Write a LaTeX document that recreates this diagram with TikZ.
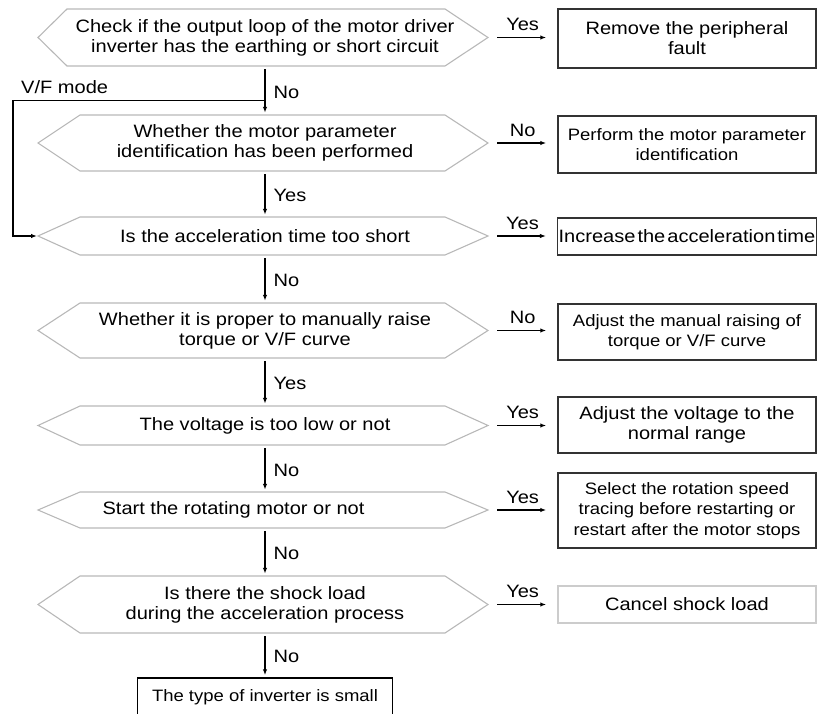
\documentclass[tikz,border=0pt]{standalone}
\usepackage{fontspec}
\setmainfont[FakeStretch=1.12]{Liberation Sans}
\usetikzlibrary{arrows.meta}
\newcommand{\mainsize}{\fontsize{17.9}{20}\selectfont}
\newcommand{\smallsize}{\fontsize{16.5}{20.5}\selectfont}

\begin{document}
\begin{tikzpicture}[x=1pt,y=-1pt,
	every node/.style={font=\mainsize},
	hexline/.style={draw=black!28, line width=1.1pt},
	decision/.style={inner sep=0pt, align=center},
	result/.style={draw, line width=1.5pt, minimum width=258pt, inner sep=1pt, align=center},
	flow/.style={-{Latex[length=6pt,width=4.5pt]}, line width=1.2pt}]
	\useasboundingbox (0,0) rectangle (817,714);
	% decision: number, y, half height, left corner, text
	\newcommand{\hexdecision}[5]{
		\draw[hexline] (38,#2) -- (#4,#2-#3) -- (445,#2-#3) -- (488,#2) -- (445,#2+#3) -- (#4,#2+#3) -- cycle;
		\node[decision, minimum height=2*#3] (d#1) at (265,#2) {#5};
		\coordinate (w#1) at (38,#2);
		\coordinate (e#1) at (488,#2);
	}
	% remedy: number, y, height, colour, font, text
	\newcommand{\remedy}[6]{
		\node[result, draw=#4, minimum height=#3, font=#5] (r#1) at (687,#2) {#6};
	}
	\hexdecision{1}{37.5}{28.5}{67}{Check if the output loop of the motor driver\\inverter has the earthing or short circuit}
	\hexdecision{2}{143}{28}{80}{Whether the motor parameter\\identification has been performed}
	\hexdecision{3}{236}{19}{80}{Is the acceleration time too short}
	\hexdecision{4}{330.5}{27.5}{80}{Whether it is proper to manually raise\\torque or V/F curve}
	\hexdecision{5}{425.5}{19.5}{80}{The voltage is too low or not}
	\hexdecision{6}{510}{18}{80}{\hspace*{-63pt}Start the rotating motor or not}
	\hexdecision{7}{604.5}{28.5}{80}{Is there the shock load\\during the acceleration process}

	\remedy{1}{38.5}{59}{black!80}{\mainsize}{Remove the peripheral\\fault}
	\remedy{2}{144.5}{57}{black!80}{\smallsize}{Perform the motor parameter\\identification}
	\remedy{3}{236.5}{37}{black!80}{\mainsize}{\spaceskip=2pt Increase the acceleration time}
	\remedy{4}{332}{56}{black!80}{\smallsize}{Adjust the manual raising of\\torque or V/F curve}
	\remedy{5}{425}{56}{black!80}{\mainsize}{Adjust the voltage to the\\normal range}
	\remedy{6}{510.5}{75}{black!80}{\smallsize}{Select the rotation speed\\tracing before restarting or\\restart after the motor stops}
	\remedy{7}{604.5}{37}{black!20}{\mainsize}{Cancel shock load}

	\node[result, minimum width=255pt, minimum height=38, font=\smallsize] (last) at (265,697) {The type of inverter is small};
	% main flow
	\foreach \a/\b/\lab in {d1/d2/No,d2/d3/Yes,d3/d4/No,d4/d5/Yes,d5/d6/No,d6/d7/No,d7/last/No}
	{
		\draw[flow, shorten <=3pt, shorten >=2pt] (\a.south) -- (\b.north)
			node[midway, anchor=west, inner sep=0pt, xshift=8pt, yshift=-1.5pt] {\lab};
	}
	\foreach \n/\lab in {1/Yes,2/No,3/Yes,4/No,5/Yes,6/Yes,7/Yes}
	{
		\draw[flow, shorten <=9pt, shorten >=11pt] (e\n) -- (e\n -| r\n.west)
			node[midway, anchor=south, inner sep=0pt, yshift=6pt] {\lab};
	}
	% V/F mode skips the identification
	\coordinate (vf) at (265,100.7);
	\draw[flow, shorten >=1pt] (vf) -- (13,100.7) |- (w3);
	\node[anchor=west, inner sep=0pt] (vfmode) at (21,87) {V/F mode};
\end{tikzpicture}
\end{document}
